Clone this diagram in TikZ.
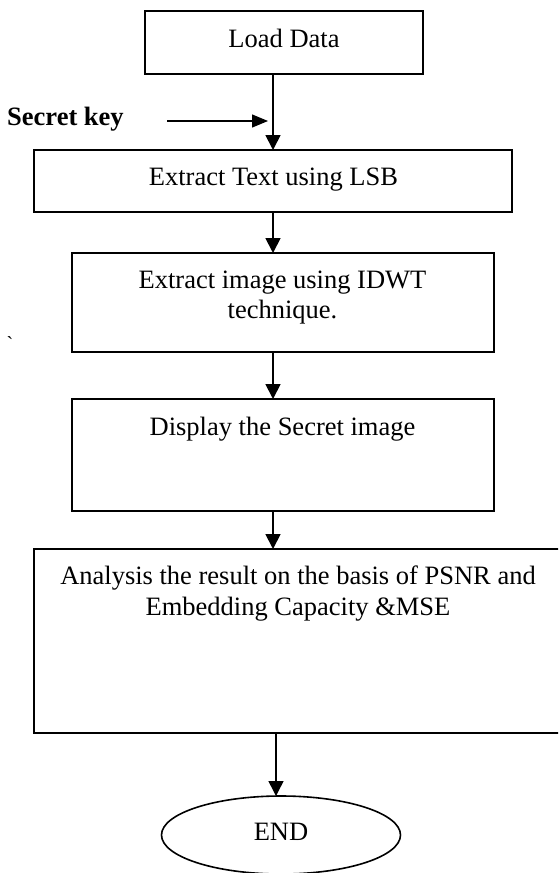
\documentclass[tikz,border=0pt]{standalone}
\usepackage{fontspec}
\setmainfont{Liberation Serif}
\usetikzlibrary{arrows.meta,shapes.geometric}
\begin{document}
\begin{tikzpicture}[x=1pt,y=-1pt,
  boxnode/.style={draw, line width=1.8pt, inner sep=0pt, outer sep=0pt},
  txt/.style={inner sep=0pt, anchor=base, font=\fontsize{26.5}{30}\selectfont},
  flowarrow/.style={line width=1.8pt, -{Triangle[width=15pt,length=15pt]}}]
\useasboundingbox (0,0) rectangle (558,873);
\clip (0,0) rectangle (558,873);
% boxes
\node[boxnode, minimum width=278pt, minimum height=63pt] (load) at (284,42.5) {};
\node[boxnode, minimum width=478pt, minimum height=62pt] (ext) at (273,181) {};
\node[boxnode, minimum width=422pt, minimum height=99pt] (img) at (283,302.5) {};
\node[boxnode, minimum width=422pt, minimum height=112pt] (disp) at (283,455) {};
\node[boxnode, line width=1.5pt, minimum width=600pt, minimum height=184pt] (ana) at (334,641) {};
\node[boxnode, ellipse, line width=1.6pt, minimum width=239pt, minimum height=78pt] (endn) at (281,835) {};
% texts
\node[txt] (tload) at (284,47) {Load Data};
\node[txt] (text) at (273.5,185) {Extract Text using LSB};
\node[txt] (timg1) at (282.5,288) {Extract image using IDWT};
\node[txt] (timg2) at (282.5,318) {technique.};
\node[txt] (tdisp) at (282.5,435) {Display the Secret image};
\node[txt] (tana1) at (298,584) {Analysis the result on the basis of PSNR and};
\node[txt] (tana2) at (298,615) {Embedding Capacity \&MSE};
\node[txt] (tend) at (281,840) {END};
\node[txt, anchor=base west, font=\fontsize{26.5}{30}\selectfont\bfseries] (key) at (7,125) {Secret key};
\node[inner sep=0pt, font=\fontsize{20}{24}\selectfont] (tick) at (10,344) {\textasciigrave};
% connectors
\coordinate (sp) at (273,0);
\coordinate (sp2) at (276,0);
\coordinate (keystart) at (167,121);
\draw[flowarrow] (load.south -| sp) -- (ext.north -| sp);
\draw[flowarrow, line width=1.3pt, -{Triangle[width=13pt,length=16pt]}, shorten >=5pt] (keystart) -- (keystart -| sp);
\draw[flowarrow] (ext.south -| sp) -- (img.north -| sp);
\draw[flowarrow] (img.south -| sp) -- (disp.north -| sp);
\draw[flowarrow] (disp.south -| sp) -- (ana.north -| sp);
\draw[flowarrow, line width=1.5pt] (ana.south -| sp2) -- (endn.north -| sp2);
\end{tikzpicture}
\end{document}
